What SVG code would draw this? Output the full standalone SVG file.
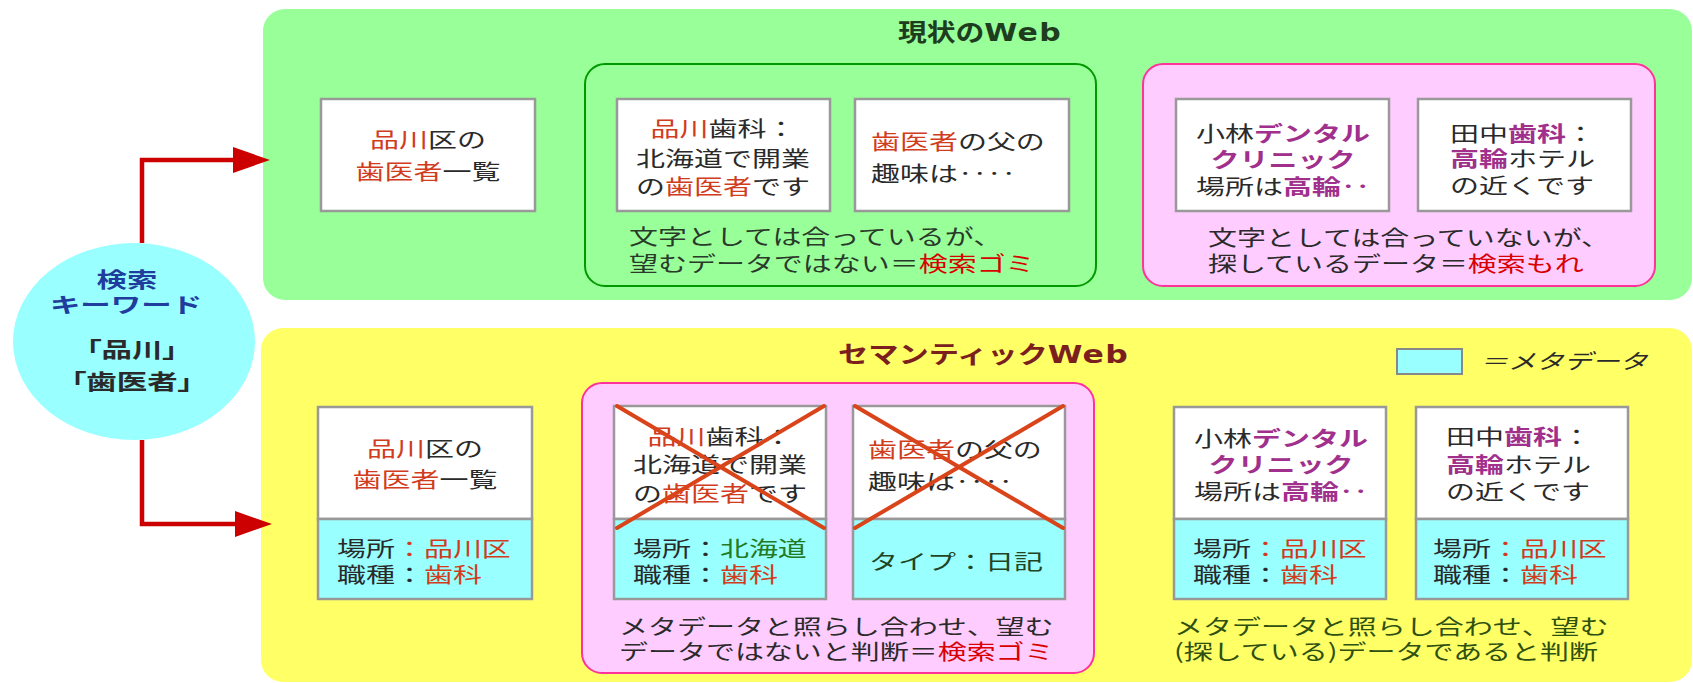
<svg xmlns="http://www.w3.org/2000/svg" width="1693" height="683" viewBox="0 0 1693 683">
<defs>
<style>
.t{font-family:"Noto Sans CJK JP","Noto Sans CJK SC",sans-serif;font-size:21px;fill:#2a2a2a}
.b{font-weight:bold}
.r{fill:#D03C1C}
.rr{fill:#D80000}
.p{fill:#A0308C;font-weight:bold}
.g{fill:#237A23}
.cg{fill:#2A3A2A}
.cy{fill:#2E5010}
.card{fill:#fff;stroke:#999;stroke-width:2.5}
.meta{fill:#99FFFF;stroke:#999;stroke-width:2.5}
.cross{stroke:#D9441A;stroke-width:4;stroke-linecap:round}
.conn{fill:none;stroke:#CC0000;stroke-width:4.5}
.web{font-family:"DejaVu Sans",sans-serif;font-size:25px;letter-spacing:1px}
</style>
<marker id="ah" markerUnits="userSpaceOnUse" markerWidth="38" markerHeight="26" viewBox="0 0 38 26" refX="2" refY="13" orient="auto"><path d="M0,0L37,13L0,26z" fill="#CC0000"/></marker>
</defs>
<rect width="1693" height="683" fill="#fff"/>

<g id="panel-current">
<rect x="263" y="9" width="1429" height="291" rx="22" fill="#99FF99"/>
<text class="t b" transform="translate(898,41) scale(1.2,1)" style="font-size:24px;fill:#1E3D1E">現状の<tspan class="web">Web</tspan></text>
</g>
<g id="panel-semantic">
<rect x="261" y="328" width="1431" height="354" rx="22" fill="#FFFF66"/>
<text class="t b" transform="translate(838,363) scale(1.26,1)" style="font-size:24px;fill:#7A1E1E">セマンティック<tspan class="web">Web</tspan></text>
</g>

<g id="keyword">
<ellipse cx="134" cy="341.5" rx="121" ry="98.5" fill="#99FFFF"/>
<text class="t b" text-anchor="middle" transform="translate(127,287) scale(1.45,1)" style="fill:#203C9C">検索</text>
<text class="t b" text-anchor="middle" transform="translate(126,312) scale(1.45,1)" style="fill:#203C9C">キーワード</text>
<text class="t b" text-anchor="middle" transform="translate(132,357) scale(1.45,1)" style="font-feature-settings:'palt'">「品川」</text>
<text class="t b" text-anchor="middle" transform="translate(132,389) scale(1.45,1)" style="font-feature-settings:'palt'">「歯医者」</text>
</g>

<!-- current web -->
<g id="cw-list">
<rect class="card" x="321" y="99" width="214" height="112"/>
<text class="t" text-anchor="middle" transform="translate(428,147) scale(1.38,1)"><tspan class="r">品川</tspan>区の</text>
<text class="t" text-anchor="middle" transform="translate(428,179) scale(1.38,1)"><tspan class="r">歯医者</tspan>一覧</text>
</g>
<g id="cw-noise">
<rect x="585" y="64" width="511" height="222" rx="20" fill="none" stroke="#009900" stroke-width="2"/>
<text class="t cg" transform="translate(629,244) scale(1.38,1)">文字としては合っているが、</text>
<text class="t cg" transform="translate(629,271) scale(1.38,1)">望むデータではない＝<tspan class="rr">検索ゴミ</tspan></text>
</g>
<g id="cw-shinagawa">
<rect class="card" x="617" y="99" width="213" height="112"/>
<text class="t" text-anchor="middle" transform="translate(723,136) scale(1.38,1)"><tspan class="r">品川</tspan>歯科：</text>
<text class="t" text-anchor="middle" transform="translate(723,166) scale(1.38,1)">北海道で開業</text>
<text class="t" text-anchor="middle" transform="translate(723,194) scale(1.38,1)">の<tspan class="r">歯医者</tspan>です</text>
</g>
<g id="cw-father">
<rect class="card" x="855" y="99" width="214" height="112"/>
<text class="t" transform="translate(871,149) scale(1.38,1)"><tspan class="r">歯医者</tspan>の父の</text>
<text class="t" transform="translate(871,181) scale(1.38,1)">趣味は‥‥</text>
</g>
<g id="cw-miss">
<rect x="1143" y="64" width="512" height="222" rx="20" fill="#FFCCFF" stroke="#FF3399" stroke-width="2"/>
<text class="t" transform="translate(1208,245) scale(1.38,1)">文字としては合っていないが、</text>
<text class="t" transform="translate(1208,271) scale(1.38,1)">探しているデータ＝<tspan class="rr">検索もれ</tspan></text>
</g>
<g id="cw-kobayashi">
<rect class="card" x="1176" y="99" width="213" height="112"/>
<text class="t" text-anchor="middle" transform="translate(1283,141) scale(1.38,1)">小林<tspan class="p">デンタル</tspan></text>
<text class="t" text-anchor="middle" transform="translate(1283,167) scale(1.38,1)"><tspan class="p">クリニック</tspan></text>
<text class="t" text-anchor="middle" transform="translate(1283,194) scale(1.38,1)">場所は<tspan class="p">高輪‥</tspan></text>
</g>
<g id="cw-tanaka">
<rect class="card" x="1418" y="99" width="213" height="112"/>
<text class="t" transform="translate(1450,141) scale(1.38,1)">田中<tspan class="p">歯科</tspan>：</text>
<text class="t" transform="translate(1450,166) scale(1.38,1)"><tspan class="p">高輪</tspan>ホテル</text>
<text class="t" transform="translate(1450,193) scale(1.38,1)">の近くです</text>
</g>

<!-- semantic web -->
<g id="legend">
<rect x="1397" y="349" width="65" height="25" fill="#99FFFF" stroke="#888" stroke-width="2"/>
<text class="t" transform="translate(1480,369) scale(1.33,1) skewX(-14)">＝メタデータ</text>
</g>
<g id="sw-list">
<rect class="card" x="318" y="407" width="214" height="112"/>
<rect class="meta" x="318" y="519" width="214" height="80"/>
<text class="t" text-anchor="middle" transform="translate(425,456) scale(1.38,1)"><tspan class="r">品川</tspan>区の</text>
<text class="t" text-anchor="middle" transform="translate(425,487) scale(1.38,1)"><tspan class="r">歯医者</tspan>一覧</text>
<text class="t" transform="translate(337,556) scale(1.38,1)">場所<tspan class="r">：品川区</tspan></text>
<text class="t" transform="translate(337,582) scale(1.38,1)">職種：<tspan class="r">歯科</tspan></text>
</g>
<g id="sw-noise">
<rect x="582" y="383" width="512" height="290" rx="20" fill="#FFCCFF" stroke="#FF3399" stroke-width="2"/>
<text class="t" transform="translate(619,634) scale(1.38,1)">メタデータと照らし合わせ、望む</text>
<text class="t" transform="translate(619,659) scale(1.38,1)">データではないと判断＝<tspan class="rr">検索ゴミ</tspan></text>
</g>
<g id="sw-shinagawa">
<rect class="card" x="614" y="406" width="212" height="113"/>
<rect class="meta" x="614" y="519" width="212" height="80"/>
<text class="t" text-anchor="middle" transform="translate(720,444) scale(1.38,1)"><tspan class="r">品川</tspan>歯科：</text>
<text class="t" text-anchor="middle" transform="translate(720,472) scale(1.38,1)">北海道で開業</text>
<text class="t" text-anchor="middle" transform="translate(720,501) scale(1.38,1)">の<tspan class="r">歯医者</tspan>です</text>
<text class="t" transform="translate(633,556) scale(1.38,1)">場所：<tspan class="g">北海道</tspan></text>
<text class="t" transform="translate(633,582) scale(1.38,1)">職種：<tspan class="r">歯科</tspan></text>
<line class="cross" x1="617" y1="406" x2="824" y2="528"/>
<line class="cross" x1="824" y1="406" x2="617" y2="528"/>
</g>
<g id="sw-father">
<rect class="card" x="853" y="406" width="212" height="113"/>
<rect class="meta" x="853" y="519" width="212" height="80"/>
<text class="t" transform="translate(868,457) scale(1.38,1)"><tspan class="r">歯医者</tspan>の父の</text>
<text class="t" transform="translate(868,489) scale(1.38,1)">趣味は‥‥</text>
<text class="t" text-anchor="middle" transform="translate(956,569) scale(1.38,1)" style="fill:#224422">タイプ：日記</text>
<line class="cross" x1="855" y1="406" x2="1063" y2="528"/>
<line class="cross" x1="1063" y1="406" x2="855" y2="528"/>
</g>
<g id="sw-kobayashi">
<rect class="card" x="1174" y="407" width="212" height="112"/>
<rect class="meta" x="1174" y="519" width="212" height="80"/>
<text class="t" text-anchor="middle" transform="translate(1281,446) scale(1.38,1)">小林<tspan class="p">デンタル</tspan></text>
<text class="t" text-anchor="middle" transform="translate(1281,472) scale(1.38,1)"><tspan class="p">クリニック</tspan></text>
<text class="t" text-anchor="middle" transform="translate(1281,499) scale(1.38,1)">場所は<tspan class="p">高輪‥</tspan></text>
<text class="t" transform="translate(1193,556) scale(1.38,1)">場所<tspan class="r">：品川区</tspan></text>
<text class="t" transform="translate(1193,582) scale(1.38,1)">職種：<tspan class="r">歯科</tspan></text>
</g>
<g id="sw-tanaka">
<rect class="card" x="1416" y="407" width="212" height="112"/>
<rect class="meta" x="1416" y="519" width="212" height="80"/>
<text class="t" transform="translate(1446,444) scale(1.38,1)">田中<tspan class="p">歯科</tspan>：</text>
<text class="t" transform="translate(1446,472) scale(1.38,1)"><tspan class="p">高輪</tspan>ホテル</text>
<text class="t" transform="translate(1446,499) scale(1.38,1)">の近くです</text>
<text class="t" transform="translate(1433,556) scale(1.38,1)">場所<tspan class="r">：品川区</tspan></text>
<text class="t" transform="translate(1433,582) scale(1.38,1)">職種：<tspan class="r">歯科</tspan></text>
</g>
<g id="sw-found">
<text class="t cy" transform="translate(1174,634) scale(1.38,1)">メタデータと照らし合わせ、望む</text>
<text class="t cy" transform="translate(1174,659) scale(1.38,1)">(探している)データであると判断</text>
</g>

<g id="connectors">
<polyline class="conn" points="142,243 142,160 235,160" marker-end="url(#ah)"/>
<polyline class="conn" points="142,440 142,524 237,524" marker-end="url(#ah)"/>
</g>
</svg>
